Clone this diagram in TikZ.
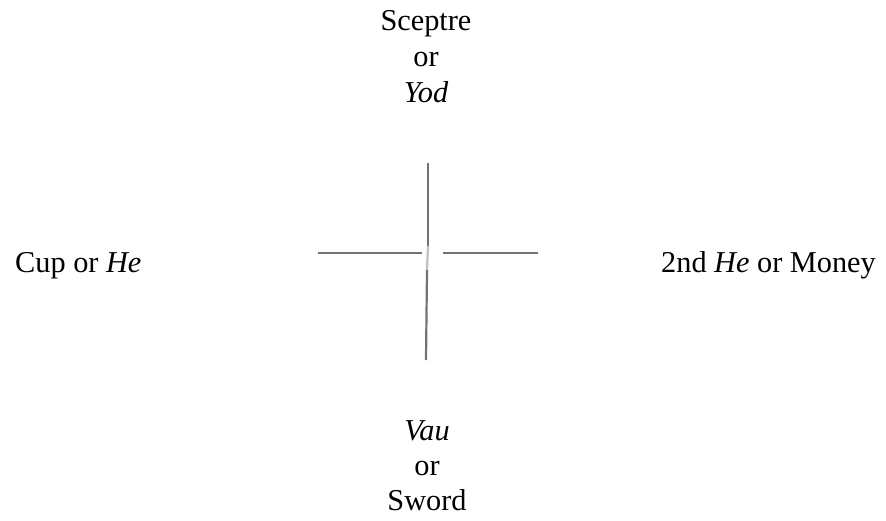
\documentclass[tikz,border=0pt]{standalone}
\usepackage{fontspec}
\setmainfont{Liberation Serif}
\begin{document}
\begin{tikzpicture}[x=1pt,y=-1pt,
  lbl/.style={anchor=base,inner sep=0pt,font=\fontsize{30.3}{36}\selectfont},
  arm/.style={draw=black!55,line width=2.2pt}]
\useasboundingbox (0,0) rectangle (886,520);
% top block
\node[lbl] (t1) at (426,30) {Sceptre};
\node[lbl] (t2) at (426,66) {or};
\node[lbl] (t3) at (426,102) {\itshape Yod};
% bottom block
\node[lbl] (b1) at (427,440) {\itshape Vau};
\node[lbl] (b2) at (427,475) {or};
\node[lbl] (b3) at (427,510) {Sword};
% sides
\node[lbl,anchor=base west] (l) at (15,272) {Cup or \textit{He}};
\node[lbl,anchor=base west] (r) at (661,272) {2nd \textit{He} or Money};
% cross
\coordinate (vt) at (428,163);
\coordinate (vm1) at (428,246);
\coordinate (vm2) at (427,270);
\coordinate (vb) at (426,360);
\coordinate (hl1) at (318,253);
\coordinate (hl2) at (422,253);
\coordinate (hr1) at (443,253);
\coordinate (hr2) at (538,253);
\draw[arm] (vt) -- (vm1);
\draw[arm,draw=black!25] (vm1) -- (vm2);
\draw[arm] (vm2) -- (vb);
\draw[arm] (hl1) -- (hl2);
\draw[arm] (hr1) -- (hr2);
\end{tikzpicture}
\end{document}
